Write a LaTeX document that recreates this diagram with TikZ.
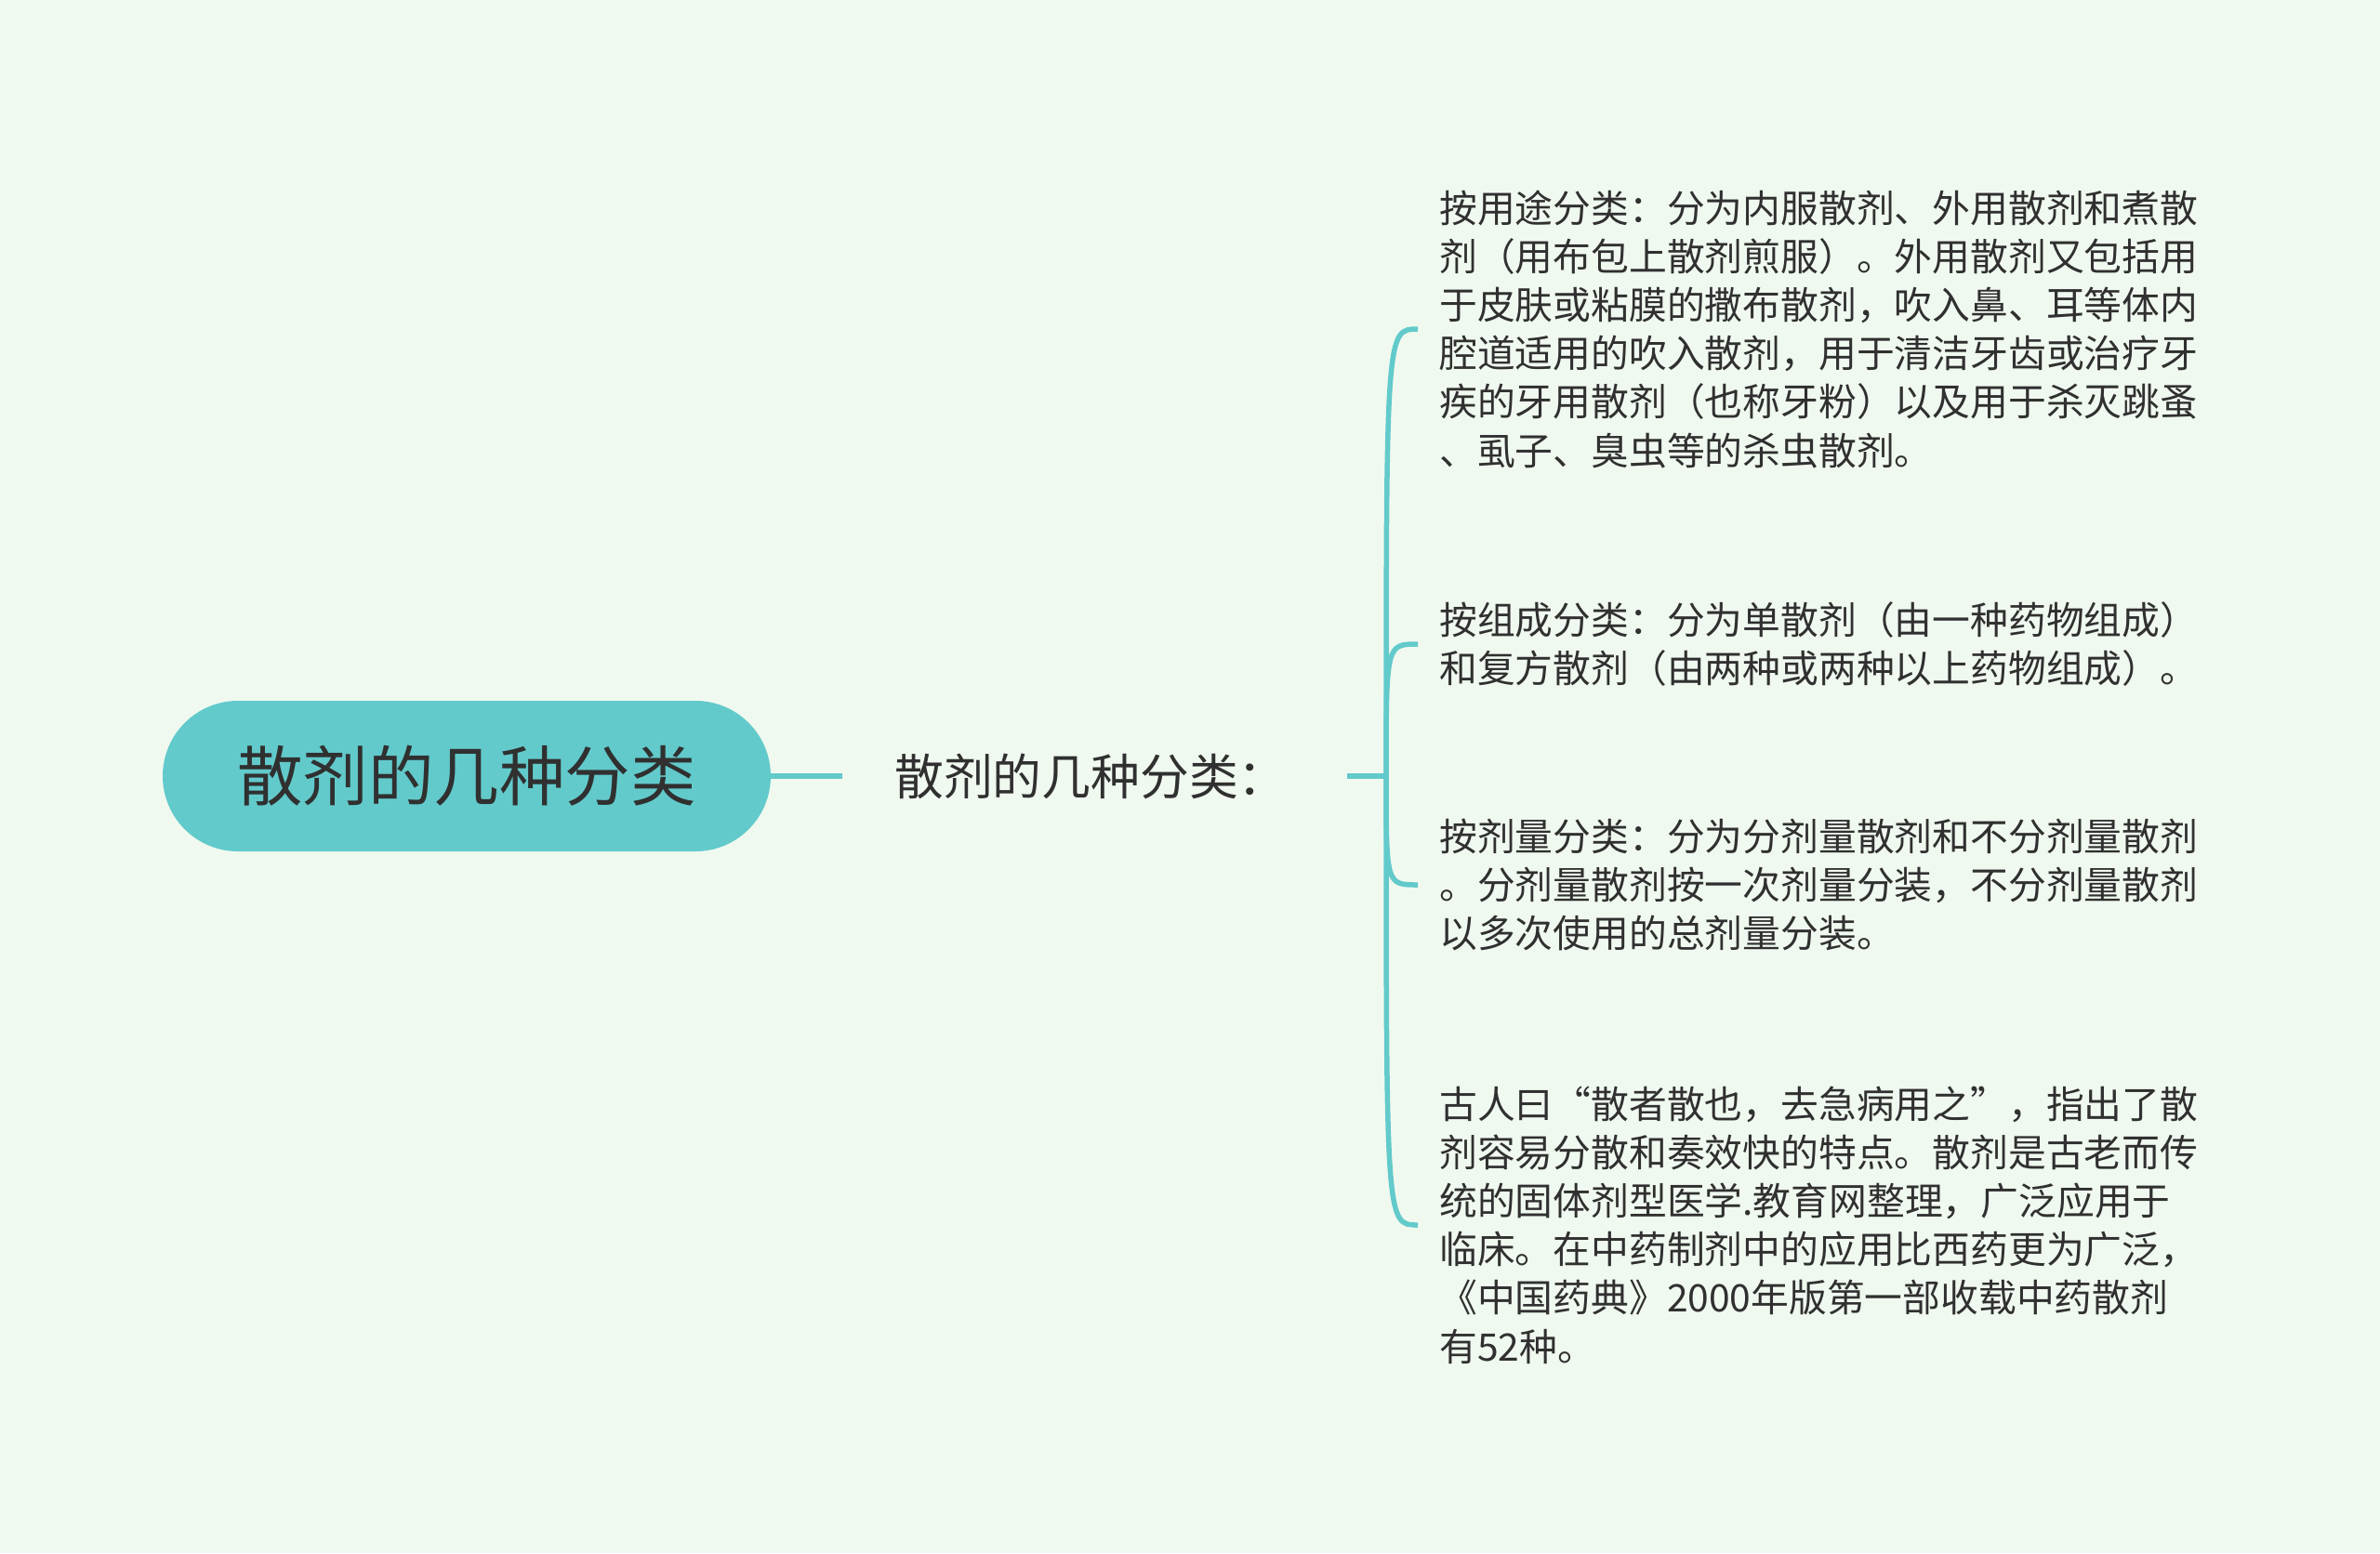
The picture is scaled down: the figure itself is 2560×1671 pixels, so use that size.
\documentclass[tikz,border=0pt]{standalone}
\usepackage{fontspec}
\setmainfont{Noto Sans CJK SC}
\definecolor{bgmint}{HTML}{F0F9EF}
\definecolor{teal}{HTML}{62CACB}
\definecolor{ink}{HTML}{303030}
\tikzset{
  rootbox/.style={fill=teal, rounded corners=81pt, minimum width=654pt, minimum height=162pt,
    inner sep=0pt, text=ink, font=\fontsize{70.5}{80}\selectfont},
  midbox/.style={minimum width=543pt, inner sep=0pt, text=ink, font=\fontsize{52.8}{60}\selectfont},
  leafbox/.style={anchor=west, align=left, inner xsep=23pt, inner ysep=0pt, text=ink,
    font=\fontsize{40.8}{52.2}\selectfont},
  link/.style={draw=teal, line width=5.5pt},
}
\begin{document}
\begin{tikzpicture}[x=1pt,y=-1pt]
\fill[bgmint] (0,0) rectangle (2560,1671);
\useasboundingbox (0,0) rectangle (2560,1671);

\node[rootbox] (root) at (502,835) {散剂的几种分类};
\node[midbox] (mid) at (1177.5,835) {散剂的几种分类：\kern8pt};
\coordinate (j) at (1491,835);

\node[leafbox] (c1) at (1525,354) {按用途分类：分为内服散剂、外用散剂和煮散\\剂（用布包上散剂煎服）。外用散剂又包括用\\于皮肤或粘膜的撒布散剂，吹入鼻、耳等体内\\腔道适用的吹入散剂，用于清洁牙齿或治疗牙\\疾的牙用散剂（也称牙粉）以及用于杀灭跳蚤\\、虱子、臭虫等的杀虫散剂。};
\node[leafbox] (c2) at (1525,693) {按组成分类：分为单散剂（由一种药物组成）\\和复方散剂（由两种或两种以上药物组成）。};
\node[leafbox] (c3) at (1525,952) {按剂量分类：分为分剂量散剂和不分剂量散剂\\。分剂量散剂按一次剂量分装，不分剂量散剂\\以多次使用的总剂量分装。};
\node[leafbox] (c4) at (1525,1318) {古人曰“散者散也，去急病用之”，指出了散\\剂容易分散和奏效快的特点。散剂是古老而传\\统的固体剂型医学.教育网整理，广泛应用于\\临床。在中药制剂中的应用比西药更为广泛，\\《中国药典》2000年版第一部收载中药散剂\\有52种。};

\draw[link] (root.east) -- (mid.west);
\draw[link] (mid.east) -- (j);
\foreach \c in {c1,c2,c3,c4}{
  \draw[link] (j) .. controls (j |- \c.west) .. (\c.west);
}
\end{tikzpicture}
\end{document}
